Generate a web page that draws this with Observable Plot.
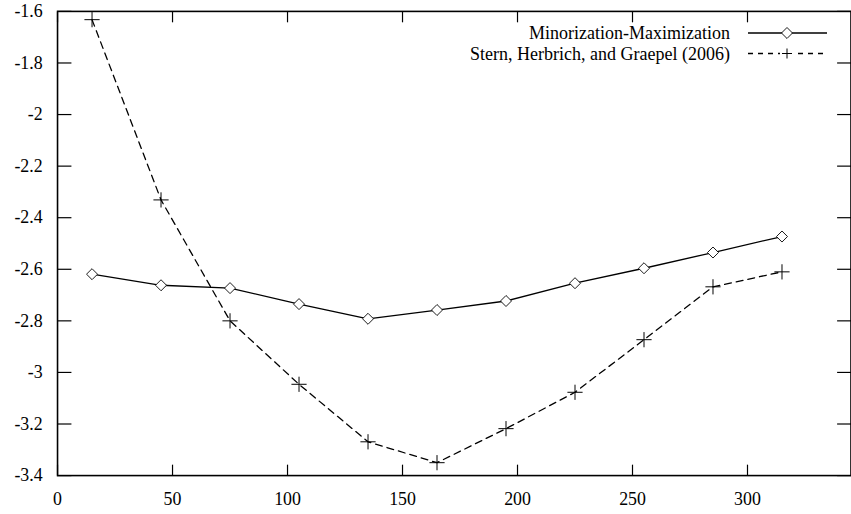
<!DOCTYPE html>
<html>
<head>
<meta charset="utf-8">
<script src="https://cdn.jsdelivr.net/npm/d3@7"></script>
<script src="https://cdn.jsdelivr.net/npm/@observablehq/plot@0.6"></script>
<style>
  html, body { margin: 0; padding: 0; background: #fff; overflow: hidden; }
  #wrap { position: relative; width: 851px; height: 514px; overflow: hidden; font-family: 'Liberation Serif', serif; }
  #wrap svg, #wrap svg text { font-family: 'Liberation Serif', 'Times New Roman', serif !important; }
  #legend { position: absolute; left: 0; top: 0; pointer-events: none; }
</style>
</head>
<body>
<div id="wrap"></div>
<script>
// ---- data ----
const xs = [15, 45, 75, 105, 135, 165, 195, 225, 255, 285, 315];
const mmValues = [-2.619, -2.662, -2.673, -2.735, -2.792, -2.758, -2.723, -2.654, -2.596, -2.535, -2.473];
const shgValues = [-1.632, -2.331, -2.800, -3.046, -3.269, -3.350, -3.218, -3.077, -2.873, -2.668, -2.610];
const seriesNames = ["Minorization-Maximization", "Stern, Herbrich, and Graepel (2006)"];
const xTicks = [0, 50, 100, 150, 200, 250, 300];
const yTicks = [-1.6, -1.8, -2, -2.2, -2.4, -2.6, -2.8, -3, -3.2, -3.4];

const mm = xs.map((x, i) => ({x, y: mmValues[i]}));
const shg = xs.map((x, i) => ({x, y: shgValues[i]}));

const font = "Liberation Serif";

const chart = Plot.plot({
  width: 858,
  height: 514,
  marginLeft: 57.5,
  marginRight: 0.5,
  marginTop: 11,
  marginBottom: 35,
  style: {fontFamily: "'Liberation Serif', serif", fontSize: "18px", color: "#000", background: "#fff", overflow: "hidden"},
  x: {domain: [0, 345], label: null},
  y: {domain: [-3.4, -1.6], label: null},
  marks: [
    Plot.axisX(xTicks, {anchor: "bottom", label: null, tickSize: -10.5, tickPadding: 27, tickFormat: d => String(d), strokeWidth: 1.2, fontSize: 18, fontVariant: "normal"}),
    Plot.axisX(xTicks, {anchor: "top", label: null, tickSize: -10.5, tickFormat: () => "", strokeWidth: 1.2}),
    Plot.axisY(yTicks, {anchor: "left", label: null, tickSize: -14.5, tickPadding: 29.5, tickFormat: d => String(d), strokeWidth: 1.2, fontSize: 18, fontVariant: "normal"}),
    Plot.axisY(yTicks, {anchor: "right", label: null, tickSize: -14.5, tickFormat: () => "", strokeWidth: 1.2}),
    Plot.frame({stroke: "#000", strokeWidth: 1.6}),
    Plot.line(mm, {x: "x", y: "y", stroke: "#000", strokeWidth: 1.3}),
    Plot.line(shg, {x: "x", y: "y", stroke: "#000", strokeWidth: 1.3, strokeDasharray: "7,5"}),
    Plot.dot(mm, {x: "x", y: "y", symbol: "diamond2", r: 5, fill: "#fff", stroke: "#000", strokeWidth: 0.9}),
    Plot.dot(shg, {x: "x", y: "y", symbol: "plus", r: 5, stroke: "#000", strokeWidth: 1})
  ]
});
d3.select(chart).attr("font-family", "Liberation Serif");
d3.select(chart).selectAll("g, text").attr("font-family", null).attr("font-variant", null);
d3.select(chart).selectAll("text").style("font-family", "'Liberation Serif', serif").style("font-size", "18px");
document.getElementById("wrap").appendChild(chart);

// ---- legend overlay (key box) ----
const lg = d3.select("#wrap").append("svg")
  .attr("id", "legend").attr("width", 851).attr("height", 514)
  .style("font-size", "18px");
const rows = [
  {name: seriesNames[0], dash: null, sym: "diamond"},
  {name: seriesNames[1], dash: "5,5", sym: "plus"}
];
rows.forEach((r, i) => {
  const cy = 33 + i * 20.5;
  lg.append("text").attr("x", 730).attr("y", cy).attr("dy", "0.34em")
    .attr("text-anchor", "end").attr("fill", "#000").text(r.name);
  lg.append("line").attr("x1", 748).attr("x2", 827).attr("y1", cy).attr("y2", cy)
    .attr("stroke", "#000").attr("stroke-width", 1.3)
    .attr("stroke-dasharray", r.dash);
  if (r.sym === "diamond") {
    lg.append("path").attr("d", d3.symbol(d3.symbolDiamond2, 77)())
      .attr("transform", `translate(787,${cy})`)
      .attr("fill", "#fff").attr("stroke", "#000").attr("stroke-width", 0.9);
  } else {
    lg.append("rect").attr("x", 780).attr("y", cy - 6).attr("width", 14).attr("height", 12).attr("fill", "#fff");
    lg.append("path").attr("d", `M782,${cy}h10M787,${cy - 5}v10`)
      .attr("stroke", "#000").attr("stroke-width", 1);
  }
});
</script>
</body>
</html>
